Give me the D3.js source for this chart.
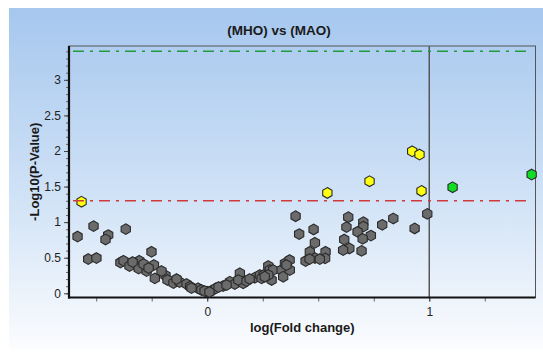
<!DOCTYPE html>
<html><head><meta charset="utf-8">
<script src="https://cdn.jsdelivr.net/npm/d3@7"></script>
<style>
html,body{margin:0;padding:0;background:#fff;}
svg{display:block;font-family:Arial,"Liberation Sans",sans-serif;}
</style></head>
<body>
<script>
const title = "(MHO) vs (MAO)";
const xTitle = "log(Fold change)";
const yTitle = "-Log10(P-Value)";
const xTickLabels = [0, 1];
const yTickLabels = [0, 0.5, 1, 1.5, 2, 2.5, 3];
const pThreshold = 1.3;
const upperThreshold = 3.4;
const foldLine = 1;

// gray (non-significant) points: log fold change, -log10 p
const grayX = [-0.584,-0.512,-0.446,-0.458,-0.367,-0.536,-0.499,-0.251,-0.391,-0.377,-0.350,-0.306,-0.309,-0.273,-0.240,-0.236,-0.188,-0.179,-0.152,-0.125,-0.093,-0.077,-0.041,-0.026,0.000,0.019,0.039,0.072,0.102,0.124,0.147,0.162,0.140,0.214,0.237,0.254,0.275,0.282,0.297,0.245,0.290,0.335,0.342,0.350,0.371,0.372,0.275,0.357,0.259,-0.287,-0.264,-0.336,-0.071,-0.012,0.010,0.051,0.087,0.177,0.191,-0.206,-0.138,
 0.398,0.414,0.479,0.485,0.462,0.443,0.533,0.531,0.485,0.507,0.635,0.627,0.703,0.703,0.677,0.737,0.700,0.617,0.640,0.612,0.695,0.788,0.838,0.934,0.991,0.461];
const grayY = [0.797,0.944,0.818,0.757,0.902,0.481,0.495,0.583,0.432,0.457,0.383,0.457,0.348,0.313,0.397,0.210,0.250,0.187,0.144,0.158,0.130,0.095,0.070,0.046,0.022,0.036,0.070,0.102,0.163,0.130,0.281,0.140,0.187,0.219,0.257,0.257,0.383,0.327,0.327,0.210,0.187,0.327,0.233,0.421,0.467,0.327,0.257,0.397,0.233,0.411,0.355,0.439,0.074,0.032,0.018,0.088,0.116,0.172,0.201,0.313,0.200,
 1.084,0.832,0.898,0.710,0.583,0.453,0.583,0.491,0.495,0.481,1.070,0.930,1.000,0.937,0.864,0.811,0.766,0.755,0.631,0.607,0.596,0.962,1.052,0.912,1.116,0.481];
// significant p-value, small fold change
const yellowX = [-0.566, 0.541, 0.731, 0.923, 0.956, 0.965];
const yellowY = [1.287, 1.411, 1.575, 1.996, 1.950, 1.439];
// significant p-value and fold change
const greenX = [1.105, 1.461];
const greenY = [1.491, 1.669];

const W = 543, H = 352;
const svg = d3.select("body").append("svg").attr("width", W).attr("height", H);
const defs = svg.append("defs");
const grad = defs.append("linearGradient").attr("id","bg").attr("x1",0).attr("y1",0).attr("x2",0).attr("y2",1);
grad.append("stop").attr("offset","0%").attr("stop-color","#a6c7ee");
grad.append("stop").attr("offset","55%").attr("stop-color","#d0e2f6");
grad.append("stop").attr("offset","100%").attr("stop-color","#fbfcfe");

svg.append("rect").attr("x",9).attr("y",8).attr("width",W-9).attr("height",341).attr("fill","url(#bg)");

const L = 69, R = 535.5, T = 46, B = 297.5;
const x = d3.scaleLinear().domain([-0.6225, 1.4784]).range([L, R]);
const y = d3.scaleLinear().domain([-0.0589, 3.4755]).range([B, T]);

svg.append("text").attr("x",279).attr("y",35).attr("text-anchor","middle")
  .attr("font-weight","bold").attr("font-size",13.5).attr("fill","#1a1a1a").text(title);

// frame
svg.append("rect").attr("x",L).attr("y",T).attr("width",R-L).attr("height",B-T)
  .attr("fill","none").attr("stroke","#555").attr("stroke-width",1);

// vertical fold line
svg.append("line").attr("x1",x(foldLine)).attr("x2",x(foldLine)).attr("y1",T).attr("y2",B)
  .attr("stroke","#555").attr("stroke-width",1.5);

// axes
const yAxisMinor = d3.axisLeft(y).tickValues(d3.range(0, 3.41, 0.1)).tickSize(3).tickFormat("");
svg.append("g").attr("transform",`translate(${L},0)`).call(yAxisMinor)
  .call(g=>{g.select(".domain").remove(); g.selectAll("line").attr("stroke","#666");});
const yAxis = d3.axisLeft(y).tickValues(yTickLabels).tickSize(5).tickPadding(3).tickFormat(d3.format("~g"));
svg.append("g").attr("transform",`translate(${L},0)`).call(yAxis)
  .call(g=>{g.select(".domain").remove(); g.selectAll("line").attr("stroke","#444");
    g.selectAll("text").attr("font-size",12).attr("fill","#222").attr("font-family","Arial,'Liberation Sans',sans-serif");});

const xAxisMinor = d3.axisBottom(x).tickValues(d3.range(-0.5, 1.3, 0.25)).tickSize(4).tickFormat("");
svg.append("g").attr("transform",`translate(0,${B})`).call(xAxisMinor)
  .call(g=>{g.select(".domain").remove(); g.selectAll("line").attr("stroke","#666");});
const xAxis = d3.axisBottom(x).tickValues(xTickLabels).tickSize(4).tickPadding(6).tickFormat(d3.format("d"));
svg.append("g").attr("transform",`translate(0,${B})`).call(xAxis)
  .call(g=>{g.select(".domain").remove(); g.selectAll("line").attr("stroke","#444");
    g.selectAll("text").attr("font-size",12).attr("fill","#222").attr("font-family","Arial,'Liberation Sans',sans-serif");});

// thick axis lines
svg.append("line").attr("x1",L).attr("x2",L).attr("y1",T).attr("y2",B+1).attr("stroke","#111").attr("stroke-width",2.2);
svg.append("line").attr("x1",L-1).attr("x2",R).attr("y1",B).attr("y2",B).attr("stroke","#111").attr("stroke-width",2.2);

svg.append("text").attr("x",(L+R)/2).attr("y",332).attr("text-anchor","middle")
  .attr("font-weight","bold").attr("font-size",13).attr("fill","#1a1a1a").text(xTitle);
svg.append("text").attr("transform",`translate(39,${(T+B)/2}) rotate(-90)`).attr("text-anchor","middle")
  .attr("font-weight","bold").attr("font-size",13).attr("fill","#1a1a1a").text(yTitle);

// points
const hex = d3.symbol().type({draw(ctx, size){
  const r = Math.sqrt(size/ (3*Math.sqrt(3)/2));
  for(let i=0;i<6;i++){const a=Math.PI/3*i - Math.PI/2; const px=r*Math.cos(a), py=r*Math.sin(a); if(i===0)ctx.moveTo(px,py); else ctx.lineTo(px,py);} ctx.closePath();}}).size(74);

function plot(xs, ys, fill){
  svg.append("g").selectAll("path").data(xs.map((v,i)=>[v, ys[i]])).join("path")
    .attr("d", hex).attr("transform", d=>`translate(${x(d[0])},${y(d[1])})`)
    .attr("fill", fill).attr("stroke","#2a2a2a").attr("stroke-width",1.1);
}
plot(grayX, grayY, "#6b6b6b");
plot(yellowX, yellowY, "#ffff10");
plot(greenX, greenY, "#11dd22");

// thresholds
svg.append("line").attr("x1",L+4).attr("x2",R-5).attr("y1",y(upperThreshold)).attr("y2",y(upperThreshold))
  .attr("stroke","#1f9a3c").attr("stroke-width",1.5).attr("stroke-dasharray","11,6,3,6");
svg.append("line").attr("x1",L+4).attr("x2",R-8).attr("y1",y(pThreshold)).attr("y2",y(pThreshold))
  .attr("stroke","#d03a3a").attr("stroke-width",1.5).attr("stroke-dasharray","11,6,3,6");
</script>
</body></html>
